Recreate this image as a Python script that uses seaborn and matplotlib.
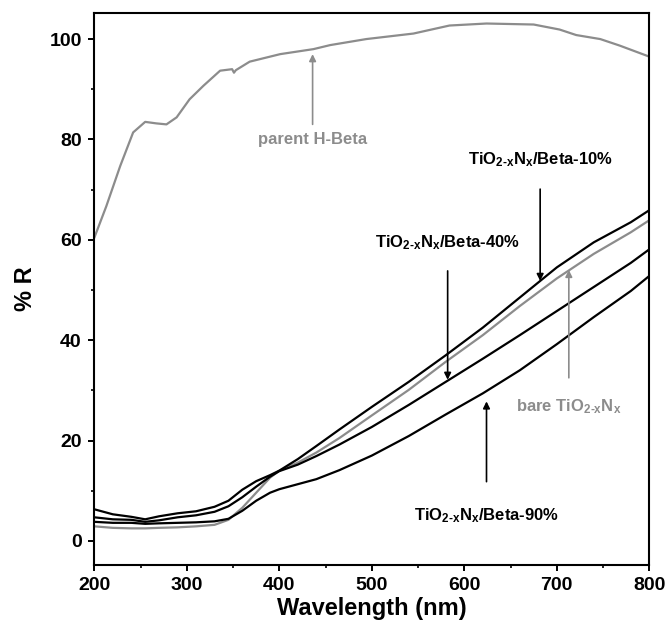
import numpy as np
import pandas as pd
import matplotlib
matplotlib.use('Agg')
import matplotlib.pyplot as plt
import seaborn as sns

# values (wavelength in nm, %R)
wl_parent = [200, 213, 228, 242, 255, 267, 278, 289, 303, 318, 336, 349, 351, 353, 368,
             401, 437, 455, 494, 545, 584, 624, 675, 703, 721, 747, 768, 800]
r_parent = [60.4, 66.7, 74.7, 81.4, 83.5, 83.2, 83.0, 84.4, 88.0, 90.7, 93.7, 94.0, 93.3, 93.8, 95.5,
            97.0, 98.0, 98.8, 100.0, 101.1, 102.7, 103.1, 102.9, 101.9, 100.8, 100.0, 98.7, 96.5]

wl = [200, 220, 240, 255, 270, 290, 310, 330, 345, 360, 375, 390, 400, 420, 440,
      465, 500, 540, 580, 620, 660, 700, 740, 780, 800]
r_10 = [6.3, 5.3, 4.8, 4.3, 4.9, 5.5, 5.9, 6.8, 8.0, 10.2, 11.9, 13.1, 14.0, 16.3, 18.9,
        22.2, 26.7, 31.7, 37.0, 42.5, 48.5, 54.5, 59.5, 63.5, 65.9]
r_bare = [2.9, 2.6, 2.5, 2.5, 2.6, 2.7, 2.9, 3.2, 4.2, 6.6, 9.6, 12.6, 14.0, 15.6, 17.6,
          20.5, 25.0, 30.1, 35.7, 41.0, 46.8, 52.3, 57.2, 61.5, 63.9]
r_40 = [4.7, 4.3, 4.2, 3.8, 4.1, 4.7, 5.1, 5.8, 6.9, 8.7, 10.8, 12.8, 13.9, 15.2, 16.9,
        19.2, 22.7, 27.1, 31.7, 36.3, 41.0, 45.8, 50.6, 55.4, 58.1]
r_90 = [3.8, 3.6, 3.6, 3.4, 3.5, 3.6, 3.7, 3.9, 4.4, 6.0, 8.0, 9.6, 10.3, 11.3, 12.3,
        14.1, 17.0, 20.9, 25.2, 29.4, 34.0, 39.2, 44.6, 49.8, 52.8]

sns.set_style('ticks')
plt.rcParams['font.family'] = ['Liberation Sans', 'DejaVu Sans']
plt.rcParams['font.weight'] = 'bold'
plt.rcParams['mathtext.fontset'] = 'custom'
plt.rcParams['mathtext.rm'] = 'Liberation Sans:bold'
plt.rcParams['mathtext.it'] = 'Liberation Sans:bold'
plt.rcParams['mathtext.bf'] = 'Liberation Sans:bold'
for k in ('text.color', 'axes.labelcolor', 'xtick.color', 'ytick.color', 'axes.edgecolor'):
    plt.rcParams[k] = 'black'

grey = '#8c8c8c'

fig = plt.figure(figsize=(6.65, 6.3), dpi=100)
ax = fig.add_axes([0.1418, 0.1032, 0.8346, 0.8762])

sns.lineplot(x=wl_parent, y=r_parent, color=grey, lw=1.6, ax=ax, estimator=None)
sns.lineplot(x=wl, y=r_bare, color=grey, lw=1.6, ax=ax, estimator=None)
for r in (r_10, r_40, r_90):
    sns.lineplot(x=wl, y=r, color='black', lw=1.6, ax=ax, estimator=None)

ax.set_xlim(200, 800)
ax.set_ylim(-4.8, 105.2)
ax.set_xticks(range(200, 801, 100))
ax.set_xticks(range(250, 800, 100), minor=True)
ax.set_yticks(range(0, 101, 20))
ax.set_yticks(range(10, 101, 20), minor=True)
ax.tick_params(axis='both', which='major', direction='out', length=4, width=1.4,
               labelsize=14, pad=5)
ax.tick_params(axis='both', which='minor', direction='out', length=2.5, width=1.2)
for s in ax.spines.values():
    s.set_visible(True)
    s.set_linewidth(1.5)

ax.set_xlabel('Wavelength (nm)', fontsize=17, fontweight='bold', labelpad=2)
ax.set_ylabel('% R', fontsize=17, fontweight='bold', labelpad=9)

sub = r'TiO$_{\mathrm{2\text{-}x}}$N$_{\mathrm{x}}$'

def label(text, x, y, tail, tip, color):
    ax.text(x, y, text, ha='center', va='center', fontsize=12, fontweight='bold', color=color)
    ax.annotate('', xy=(x, tip), xytext=(x, tail),
                arrowprops=dict(arrowstyle='-|>', color=color, lw=1.2, mutation_scale=10,
                                shrinkA=0, shrinkB=0))

label('parent H-Beta', 436, 80.0, 83.0, 97.0, grey)
label(sub + '/Beta-10%', 682, 76.0, 70.1, 51.8, 'black')
label(sub + '/Beta-40%', 582, 59.5, 53.8, 32.1, 'black')
label('bare ' + sub, 713, 26.8, 32.5, 54.0, grey)
label(sub + '/Beta-90%', 624, 5.0, 11.8, 27.8, 'black')

fig.savefig('out.png', dpi=100)
